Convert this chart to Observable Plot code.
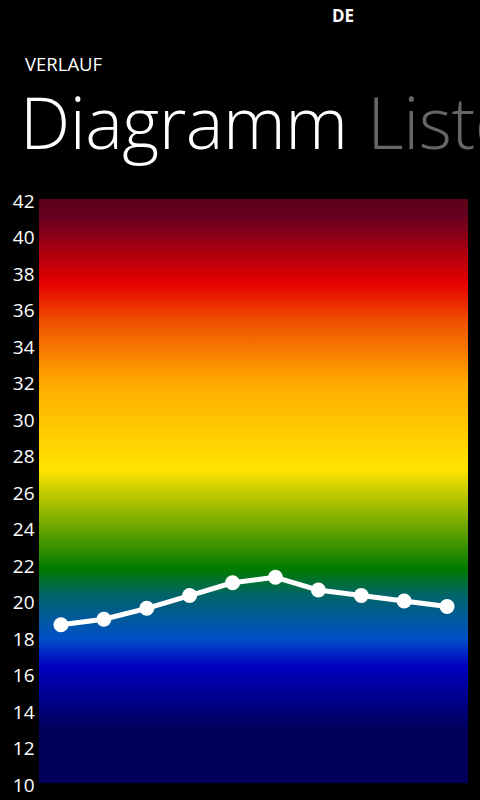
<!DOCTYPE html>
<html>
<head>
<meta charset="utf-8">
<script src="https://cdn.jsdelivr.net/npm/d3@7"></script>
<script src="https://cdn.jsdelivr.net/npm/@observablehq/plot@0.6"></script>
<style>
  html, body { margin: 0; padding: 0; background: #000; width: 480px; height: 800px; overflow: hidden; }
  #header { position: relative; height: 190px; width: 480px; overflow: hidden; font-family: "Open Sans", "Noto Sans", sans-serif; color: #fff; }
  #lang { position: absolute; left: 332px; top: 4px; font-size: 17px; font-weight: 700; }
  #section { position: absolute; left: 25px; top: 51px; font-size: 18.5px; font-weight: 400; }
  #pivot { position: absolute; left: 20px; top: 86px; font-size: 71px; line-height: 1; font-weight: 300; white-space: nowrap; letter-spacing: -0.5px; }
  #pivot .off { color: #666; margin-left: 20px; }
  #chart svg { display: block; }
</style>
</head>
<body>
<div id="header">
  <div id="lang">DE</div>
  <div id="section">VERLAUF</div>
  <div id="pivot">Diagramm<span class="off">Liste</span></div>
</div>
<div id="chart"></div>
<script>
// Data
const points = ["1", "2", "3", "4", "5", "6", "7", "8", "9", "10"];
const values = [18.7, 19.0, 19.6, 20.3, 21.0, 21.3, 20.6, 20.3, 20.0, 19.7];
const yTicks = [10, 12, 14, 16, 18, 20, 22, 24, 26, 28, 30, 32, 34, 36, 38, 40, 42];
const yDomain = [10, 42];
// Gradient stops: temperature value -> colour
const stopValues = [42, 41.1, 37.4, 35.3, 31.9, 27.2, 21.7, 20.3, 17.9, 16.4, 12.9, 10];
const stopColors = ["#5e0018", "#650020", "#e60000", "#f05000", "#ffab00", "#ffe400", "#007a00", "#006468", "#0050c8", "#0000c0", "#00005a", "#00005a"];

const data = points.map((p, i) => ({p, v: values[i]}));
const band = [{y1: yDomain[0], y2: yDomain[1]}];

const plot = Plot.plot({
  width: 480,
  height: 610,
  marginTop: 9,
  marginBottom: 17,
  marginLeft: 39,
  marginRight: 12,
  style: {background: "#000", color: "#fff", fontFamily: "'Open Sans', 'Noto Sans', sans-serif", fontSize: "19px", overflow: "visible"},
  x: {type: "point", domain: points, padding: 0.5, round: false, axis: null},
  y: {domain: yDomain, ticks: yTicks, tickFormat: d => String(d)},
  marks: [
    Plot.rect(band, {x1: () => points[0], x2: () => points[points.length - 1], y1: "y1", y2: "y2", fill: "url(#tempGrad)", insetLeft: -1000, insetRight: -1000, clip: true}),
    Plot.axisY({ticks: yTicks, tickSize: 0, tickPadding: 5, fill: "#fff", fontSize: 19, dy: 2, label: null}),
    Plot.line(data, {x: "p", y: "v", stroke: "#fff", strokeWidth: 5, strokeLinejoin: "round"}),
    Plot.dot(data, {x: "p", y: "v", r: 7.5, fill: "#fff", stroke: "none"})
  ]
});

// Gradient definition, mapped through the y scale range via objectBoundingBox
const svg = d3.select(plot);
const defs = svg.insert("defs", ":first-child");
const grad = defs.append("linearGradient").attr("id", "tempGrad")
  .attr("x1", 0).attr("y1", 0).attr("x2", 0).attr("y2", 1);
stopValues.forEach((v, i) => {
  grad.append("stop")
    .attr("offset", (yDomain[1] - v) / (yDomain[1] - yDomain[0]))
    .attr("stop-color", stopColors[i]);
});

document.getElementById("chart").appendChild(plot);
</script>
</body>
</html>
